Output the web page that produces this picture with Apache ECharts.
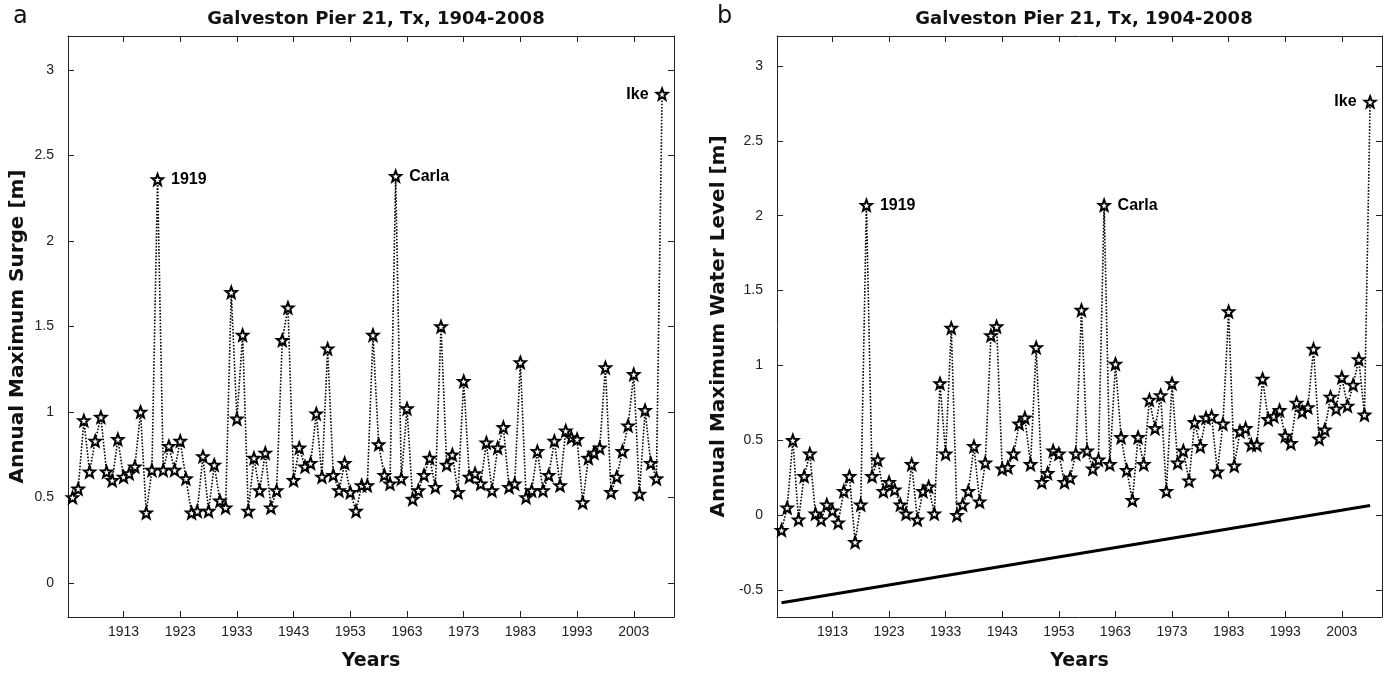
<!DOCTYPE html>
<html>
<head>
<meta charset="utf-8">
<script src="https://cdn.jsdelivr.net/npm/echarts@6/dist/echarts.min.js"></script>
<style>
  html, body { margin: 0; padding: 0; background: #fff; }
  #chart { width: 1392px; height: 676px; }
</style>
</head>
<body>
<div id="chart"></div>
<script>
// annual values, one per year starting at firstYear
const firstYear = 1904
const surge = [
  0.50, 0.55, 0.95, 0.65, 0.83, 0.97, 0.65, 0.60, 0.84, 0.62, // 1904-1913
  0.64, 0.68, 1.00, 0.41, 0.66, 2.36, 0.66, 0.80, 0.66, 0.83, // 1914-1923
  0.61, 0.41, 0.42, 0.74, 0.42, 0.69, 0.48, 0.44, 1.70, 0.96, // 1924-1933
  1.45, 0.42, 0.73, 0.54, 0.76, 0.44, 0.54, 1.42, 1.61, 0.60, // 1934-1943
  0.79, 0.68, 0.70, 0.99, 0.62, 1.37, 0.63, 0.54, 0.70, 0.53, // 1944-1953
  0.42, 0.57, 0.57, 1.45, 0.81, 0.63, 0.58, 2.38, 0.61, 1.02, // 1954-1963
  0.49, 0.54, 0.63, 0.73, 0.56, 1.50, 0.69, 0.75, 0.53, 1.18, // 1964-1973
  0.62, 0.64, 0.58, 0.82, 0.54, 0.79, 0.91, 0.56, 0.58, 1.29, // 1974-1983
  0.50, 0.54, 0.77, 0.54, 0.63, 0.83, 0.57, 0.89, 0.85, 0.84, // 1984-1993
  0.47, 0.73, 0.76, 0.79, 1.26, 0.53, 0.62, 0.77, 0.92, 1.22, // 1994-2003
  0.52, 1.01, 0.70, 0.61, 2.86                                // 2004-2008
]
const waterLevel = [
  -0.10, 0.05, 0.50, -0.03, 0.26, 0.41, 0.01, -0.03, 0.07, 0.03, // 1904-1913
  -0.05, 0.16, 0.26, -0.18, 0.07, 2.07, 0.26, 0.37, 0.16, 0.22,  // 1914-1923
  0.17, 0.07, 0.01, 0.34, -0.03, 0.16, 0.19, 0.01, 0.88, 0.41,   // 1924-1933
  1.25, 0.00, 0.07, 0.16, 0.46, 0.09, 0.35, 1.20, 1.26, 0.31,    // 1934-1943
  0.32, 0.41, 0.61, 0.65, 0.34, 1.12, 0.22, 0.28, 0.43, 0.41,    // 1944-1953
  0.22, 0.25, 0.41, 1.37, 0.43, 0.31, 0.37, 2.07, 0.34, 1.01,    // 1954-1963
  0.52, 0.30, 0.10, 0.52, 0.34, 0.77, 0.58, 0.80, 0.16, 0.88,    // 1964-1973
  0.35, 0.43, 0.23, 0.62, 0.46, 0.65, 0.66, 0.29, 0.61, 1.36,    // 1974-1983
  0.33, 0.56, 0.58, 0.47, 0.47, 0.91, 0.64, 0.66, 0.70, 0.53,    // 1984-1993
  0.48, 0.75, 0.69, 0.72, 1.11, 0.51, 0.57, 0.79, 0.71, 0.92,    // 1994-2003
  0.73, 0.87, 1.04, 0.67, 2.76                                   // 2004-2008
]
// sea level trend line (end points)
const trendYears = [1904, 2008]
const trendValues = [-0.585, 0.065]

// named storms
const stormYears = [1919, 1961, 2008]
const stormNames = ['1919', 'Carla', 'Ike']

const xTicks = [1913, 1923, 1933, 1943, 1953, 1963, 1973, 1983, 1993, 2003]
const yTicksA = [0, 0.5, 1, 1.5, 2, 2.5, 3]
const yTicksB = [-0.5, 0, 0.5, 1, 1.5, 2, 2.5, 3]

const titleText = 'Galveston Pier 21, Tx, 1904-2008'
const FONT = 'DejaVu Sans'
const TICKFONT = 'Liberation Sans'

const star = 'path://M10,0 L12.47,6.6 L19.51,6.91 L13.99,11.3 L15.88,18.09 L10,14.2 L4.12,18.09 L6.01,11.3 L0.49,6.91 L7.53,6.6 Z'

const grids = [
  { left: 68, top: 36, width: 606, height: 581, outerBoundsMode: 'none', containLabel: false },
  { left: 777, top: 36, width: 605, height: 581, outerBoundsMode: 'none', containLabel: false }
]

function pointsOf(values) {
  return values.map((v, i) => {
    const year = firstYear + i
    const k = stormYears.indexOf(year)
    const item = { value: [year, v] }
    if (k >= 0) {
      item.label = {
        show: true,
        formatter: stormNames[k],
        position: stormNames[k] === 'Ike' ? 'left' : 'right',
        distance: 7,
        fontFamily: TICKFONT,
        fontWeight: 'bold',
        fontSize: 16,
        color: '#000'
      }
    }
    return item
  })
}

function xAxes(gi) {
  const base = {
    type: 'value', gridIndex: gi, min: 1903.2, max: 2010.1,
    splitLine: { show: false },
    axisLine: { onZero: false, lineStyle: { color: '#222', width: 1 } },
    axisTick: { inside: true, length: 6, customValues: xTicks, lineStyle: { color: '#222' } }
  }
  return [
    Object.assign({}, base, {
      position: 'bottom',
      name: 'Years', nameLocation: 'middle', nameGap: 35,
      nameTextStyle: { fontFamily: FONT, fontWeight: 'bold', fontSize: 19, color: '#111' },
      axisLabel: {
        customValues: xTicks, formatter: v => String(v),
        fontFamily: TICKFONT, fontSize: 14, color: '#222', margin: 8
      }
    }),
    Object.assign({}, base, { position: 'top', axisLabel: { show: false } })
  ]
}

function yAxes(gi, min, ticks, name, gap) {
  const base = {
    type: 'value', gridIndex: gi, min: min, max: 3.2,
    splitLine: { show: false },
    axisLine: { onZero: false, lineStyle: { color: '#222', width: 1 } },
    axisTick: { inside: true, length: 6, customValues: ticks, lineStyle: { color: '#222' } }
  }
  return [
    Object.assign({}, base, {
      position: 'left',
      name: name, nameLocation: 'middle', nameGap: gap,
      nameTextStyle: { fontFamily: FONT, fontWeight: 'bold', fontSize: 20, color: '#111' },
      axisLabel: { customValues: ticks, fontFamily: TICKFONT, fontSize: 14, color: '#222', margin: 14 }
    }),
    Object.assign({}, base, { position: 'right', axisLabel: { show: false } })
  ]
}

function stormSeries(values, gi) {
  return {
    type: 'line',
    xAxisIndex: gi * 2, yAxisIndex: gi * 2,
    data: pointsOf(values),
    symbol: star, symbolSize: 11,
    lineStyle: { type: 'dotted', width: 1.6, color: '#000' },
    itemStyle: { color: '#fff', borderColor: '#000', borderWidth: 2 },
    emphasis: { disabled: true },
    animation: false,
    z: 3
  }
}

const chart = echarts.init(document.getElementById('chart'))
chart.setOption({
  animation: false,
  backgroundColor: '#fff',
  title: [
    { text: titleText, left: 371, top: 5, textAlign: 'center',
      textStyle: { fontFamily: FONT, fontWeight: 'bold', fontSize: 18, color: '#111' } },
    { text: titleText, left: 1079, top: 5, textAlign: 'center',
      textStyle: { fontFamily: FONT, fontWeight: 'bold', fontSize: 18, color: '#111' } },
    { text: 'a', left: 8, top: 0, textStyle: { fontFamily: FONT, fontWeight: 'normal', fontSize: 24, color: '#111' } },
    { text: 'b', left: 712, top: 0, textStyle: { fontFamily: FONT, fontWeight: 'normal', fontSize: 24, color: '#111' } }
  ],
  grid: grids,
  xAxis: [...xAxes(0), ...xAxes(1)],
  yAxis: [
    ...yAxes(0, -0.2, yTicksA, 'Annual Maximum Surge [m]', 40),
    ...yAxes(1, -0.68, yTicksB, 'Annual Maximum Water Level [m]', 48)
  ],
  series: [
    stormSeries(surge, 0),
    stormSeries(waterLevel, 1),
    {
      type: 'line',
      xAxisIndex: 2, yAxisIndex: 2,
      data: trendYears.map((y, i) => [y, trendValues[i]]),
      symbol: 'none',
      lineStyle: { color: '#000', width: 3 },
      z: 2
    }
  ]
})
</script>
</body>
</html>
